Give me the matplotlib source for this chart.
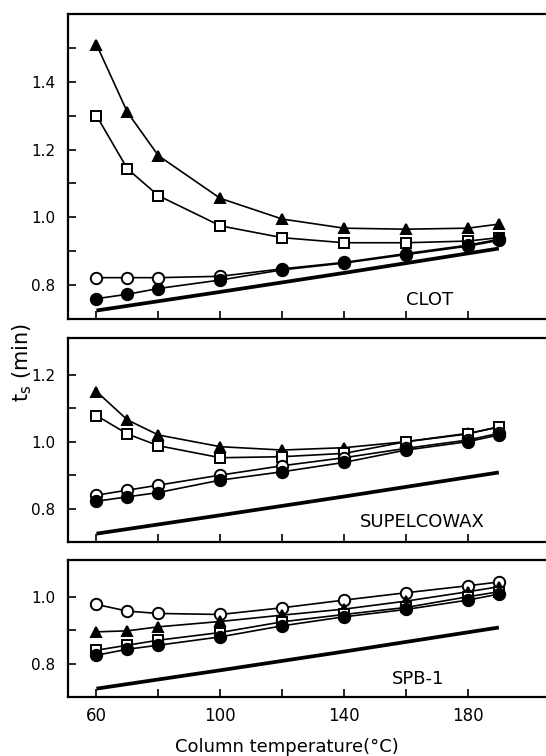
import matplotlib.pyplot as plt
from matplotlib.ticker import NullFormatter

# column temperatures (deg C)
temps = [60, 70, 80, 100, 120, 140, 160, 180, 190]

# thick reference line (same in every panel)
ref_temps = [60, 100, 140, 190]
ref_ts = [0.725, 0.780, 0.836, 0.908]

# CLOT
clot_tri = [1.51, 1.31, 1.182, 1.056, 0.995, 0.968, 0.965, 0.968, 0.98]
clot_sq = [1.30, 1.143, 1.064, 0.975, 0.94, 0.925, 0.925, 0.93, 0.94]
clot_open = [0.822, 0.822, 0.822, 0.826, 0.848, 0.867, 0.893, 0.918, 0.935]
clot_fill = [0.76, 0.773, 0.79, 0.815, 0.845, 0.865, 0.89, 0.915, 0.932]

# SUPELCOWAX
wax_tri = [1.15, 1.065, 1.02, 0.985, 0.975, 0.982, 1.0, 1.025, 1.043]
wax_sq = [1.078, 1.023, 0.988, 0.952, 0.955, 0.965, 1.0, 1.023, 1.045]
wax_open = [0.84, 0.855, 0.87, 0.90, 0.928, 0.952, 0.98, 1.005, 1.025]
wax_fill = [0.822, 0.835, 0.848, 0.885, 0.91, 0.938, 0.975, 1.0, 1.02]

# SPB-1
spb_open = [0.977, 0.957, 0.95, 0.947, 0.967, 0.99, 1.012, 1.033, 1.044]
spb_tri = [0.895, 0.898, 0.91, 0.926, 0.945, 0.963, 0.987, 1.015, 1.03]
spb_sq = [0.84, 0.855, 0.87, 0.893, 0.925, 0.947, 0.968, 1.0, 1.015]
spb_fill = [0.825, 0.843, 0.855, 0.88, 0.913, 0.94, 0.962, 0.99, 1.008]

panels = [
    ("CLOT", (0.70, 1.60), [0.8, 1.0, 1.2, 1.4], [0.9, 1.1, 1.3, 1.5],
     [(clot_tri, "^", "k"), (clot_sq, "s", "w"), (clot_open, "o", "w"), (clot_fill, "o", "k")],
     (160, 0.755)),
    ("SUPELCOWAX", (0.70, 1.31), [0.8, 1.0, 1.2], [0.9, 1.1],
     [(wax_tri, "^", "k"), (wax_sq, "s", "w"), (wax_open, "o", "w"), (wax_fill, "o", "k")],
     (145, 0.761)),
    ("SPB-1", (0.70, 1.11), [0.8, 1.0], [0.9],
     [(spb_open, "o", "w"), (spb_tri, "^", "k"), (spb_sq, "s", "w"), (spb_fill, "o", "k")],
     (155.5, 0.755)),
]

fig = plt.figure(figsize=(5.46, 7.56), dpi=100)
boxes = [
    [68 / 546, 1 - 319 / 756, 1 - 68 / 546 + 0.01, 305 / 756],
    [68 / 546, 1 - 542 / 756, 1 - 68 / 546 + 0.01, 204 / 756],
    [68 / 546, 1 - 697 / 756, 1 - 68 / 546 + 0.01, 137 / 756],
]

for i, (name, ylim, yt, yminor, series, txt) in enumerate(panels):
    ax = fig.add_axes(boxes[i])
    ax.plot(ref_temps, ref_ts, color="k", lw=2.7, solid_capstyle="butt")
    for vals, mk, fc in series:
        ms = 8.2 if mk == "o" else 7.6
        ax.plot(temps, vals, color="k", lw=1.2, marker=mk, ms=ms,
                mfc=fc, mec="k", mew=1.4)
    ax.set_xlim(50.8, 207)
    ax.set_ylim(*ylim)
    ax.set_yticks(yt)
    ax.set_yticks(yminor, minor=True)
    ax.set_yticklabels([f"{v:.1f}" for v in yt])
    ax.set_xticks([60, 100, 140, 180])
    ax.set_xticks([80, 120, 160], minor=True)
    ax.tick_params(which="both", direction="in", length=6, width=1.2,
                   labelsize=11, top=False, right=False)
    ax.tick_params(axis="y", pad=9)
    ax.spines["right"].set_visible(False)
    for s in ["left", "top", "bottom"]:
        ax.spines[s].set_linewidth(1.6)
    if i < 2:
        ax.xaxis.set_major_formatter(NullFormatter())
    else:
        ax.tick_params(axis="x", labelsize=12, pad=7)
    ax.text(txt[0], txt[1], name, ha="left", va="center", fontsize=13)

fig.text(22 / 546, 1 - 362 / 756, r"t$_\mathrm{s}$ (min)", rotation=90,
         ha="center", va="center", fontsize=15)
fig.text(287 / 546, 1 - 747 / 756, "Column temperature(°C)",
         ha="center", va="center", fontsize=13)

fig.savefig("out.png", dpi=100)
